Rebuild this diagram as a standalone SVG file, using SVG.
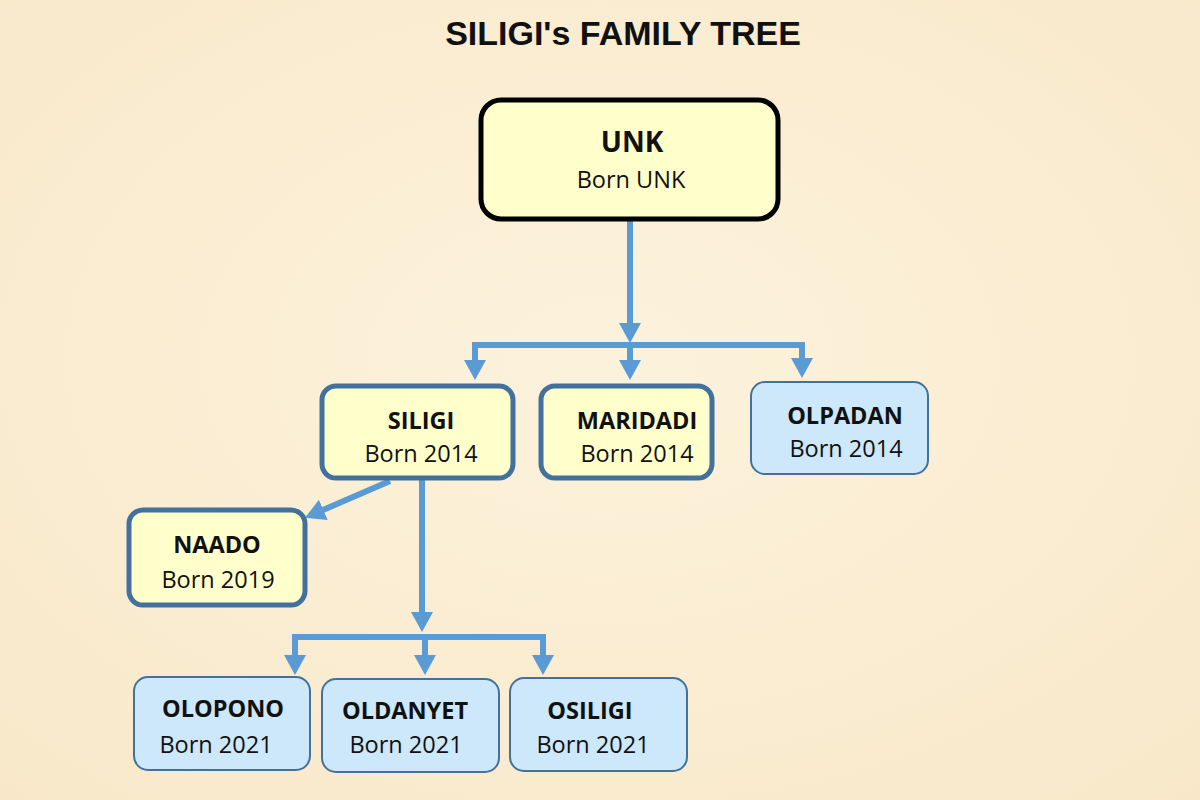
<svg xmlns="http://www.w3.org/2000/svg" width="1200" height="800" viewBox="0 0 1200 800">
<defs>
<radialGradient id="bg" cx="50%" cy="45%" r="75%">
<stop offset="0" stop-color="#fcf2dc"/>
<stop offset="1" stop-color="#f8e8c9"/>
</radialGradient>
<marker id="ah" markerUnits="userSpaceOnUse" markerWidth="20" markerHeight="22" viewBox="0 0 20 22" refX="8" refY="11" orient="auto">
<path d="M0,0 L20,11 L0,22 Z" fill="#5b9bd5"/>
</marker>
<style>
.conn{fill:none;stroke:#5b9bd5;stroke-width:6}
.root{fill:#ffffcc;stroke:#000;stroke-width:5}
.yel{fill:#ffffcc;stroke:#41719c;stroke-width:5}
.blu{fill:#cde7fb;stroke:#41719c;stroke-width:2}
.nm{font-family:"Open Sans","Noto Sans",sans-serif;font-weight:bold;fill:#111;text-anchor:middle;font-size:23.5px}
.bn{font-family:"Open Sans","Noto Sans",sans-serif;fill:#111;text-anchor:middle;font-size:23.5px}
.title{font-family:"Liberation Sans",Arial,sans-serif;font-size:34px;font-weight:bold;fill:#111;text-anchor:middle}
</style>
</defs>
<rect width="1200" height="800" fill="url(#bg)"/>
<text class="title" x="623" y="45">SILIGI's FAMILY TREE</text>
<g id="connectors">
<path class="conn" d="M630,219 V331" marker-end="url(#ah)"/>
<path class="conn" d="M475,345 H802"/>
<path class="conn" d="M475,342 V368" marker-end="url(#ah)"/>
<path class="conn" d="M630,345 V368" marker-end="url(#ah)"/>
<path class="conn" d="M802,342 V366" marker-end="url(#ah)"/>
<path class="conn" d="M390,481 L316,513" marker-end="url(#ah)"/>
<path class="conn" d="M422,478 V620" marker-end="url(#ah)"/>
<path class="conn" d="M295,637 H543"/>
<path class="conn" d="M295,634 V663" marker-end="url(#ah)"/>
<path class="conn" d="M425,637 V663" marker-end="url(#ah)"/>
<path class="conn" d="M543,634 V663" marker-end="url(#ah)"/>
</g>
<g id="unk">
<rect class="root" x="481" y="100" width="297" height="119" rx="20"/>
<text class="nm" x="632" y="152" style="font-size:28px">UNK</text>
<text class="bn" x="631" y="188">Born UNK</text>
</g>
<g id="siligi">
<rect class="yel" x="322" y="386" width="191" height="92" rx="14"/>
<text class="nm" x="421" y="429">SILIGI</text>
<text class="bn" x="421" y="462">Born 2014</text>
</g>
<g id="maridadi">
<rect class="yel" x="541" y="386" width="171" height="92" rx="14"/>
<text class="nm" x="637" y="429">MARIDADI</text>
<text class="bn" x="637" y="462">Born 2014</text>
</g>
<g id="olpadan">
<rect class="blu" x="751" y="382" width="177" height="92" rx="14"/>
<text class="nm" x="845" y="424">OLPADAN</text>
<text class="bn" x="846" y="457">Born 2014</text>
</g>
<g id="naado">
<rect class="yel" x="129" y="510" width="176" height="95" rx="14"/>
<text class="nm" x="217" y="553">NAADO</text>
<text class="bn" x="218" y="588">Born 2019</text>
</g>
<g id="olopono">
<rect class="blu" x="134" y="677" width="176" height="93" rx="14"/>
<text class="nm" x="223" y="717">OLOPONO</text>
<text class="bn" x="216" y="753">Born 2021</text>
</g>
<g id="oldanyet">
<rect class="blu" x="322" y="679" width="177" height="93" rx="14"/>
<text class="nm" x="405" y="719">OLDANYET</text>
<text class="bn" x="406" y="753">Born 2021</text>
</g>
<g id="osiligi">
<rect class="blu" x="510" y="678" width="177" height="93" rx="14"/>
<text class="nm" x="590" y="719">OSILIGI</text>
<text class="bn" x="593" y="753">Born 2021</text>
</g>
</svg>
